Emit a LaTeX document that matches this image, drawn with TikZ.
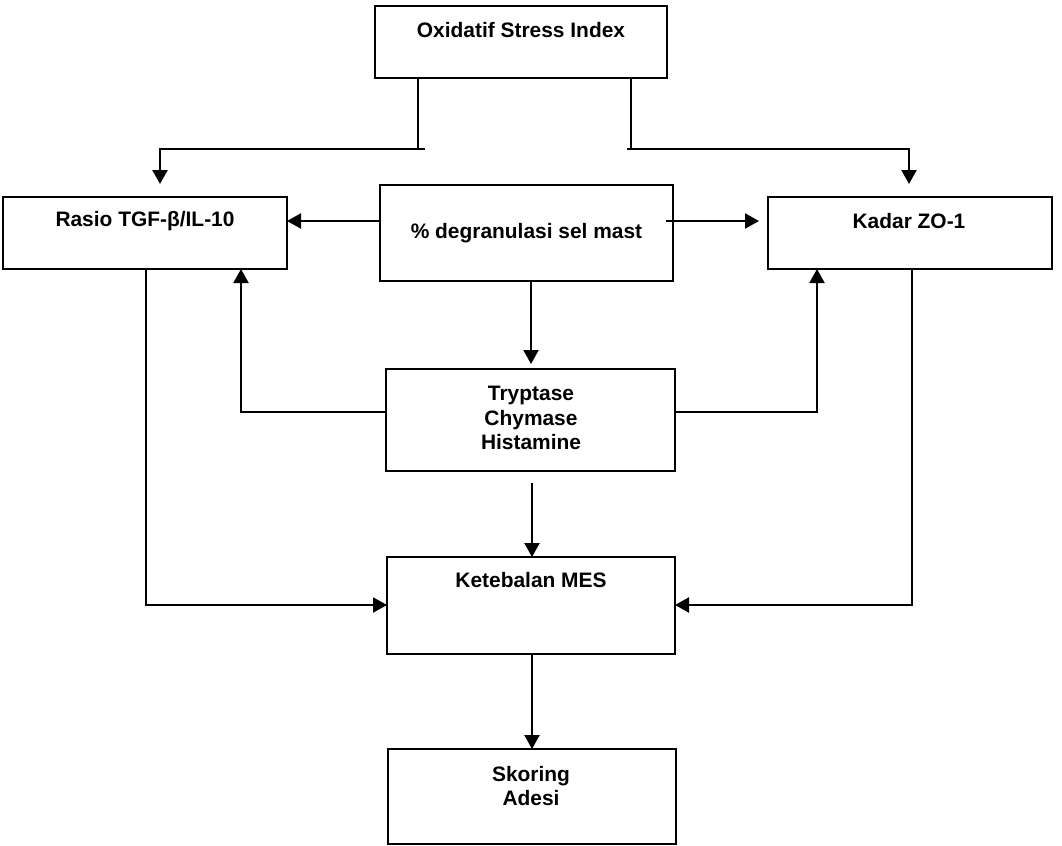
\documentclass[tikz,border=0pt]{standalone}
\usepackage{fontspec}
\setmainfont{Liberation Sans}
\usetikzlibrary{arrows.meta,fit,positioning}
\begin{document}
\begin{tikzpicture}[x=1bp,y=-1bp,
  box/.style={draw=black,line width=1.8bp,inner sep=0pt,outer sep=0pt,rectangle},
  conn/.style={draw=black,line width=2.2bp},
  arr/.style={conn,-{Triangle[length=14bp,width=15bp]}},
  txt/.style={font=\fontsize{21}{24.5}\selectfont\bfseries,inner sep=0pt,align=center}]
\useasboundingbox[fill=white] (0,0) rectangle (1062,846);
% boxes
\node[box,fit={(375,6) (667,78)}] (osi) {};
\node[box,fit={(3,197) (287,269)}] (rasio) {};
\node[box,fit={(380,185) (673,281)}] (deg) {};
\node[box,fit={(768,197) (1052,269)}] (kadar) {};
\node[box,fit={(386,369) (675,471)}] (tryp) {};
\node[box,fit={(387,557) (675,654)}] (keteb) {};
\node[box,fit={(388,749) (676,844)}] (skor) {};
% texts
\node[txt] (tosi) at (521,30) {Oxidatif Stress Index};
\node[txt] (trasio) at (145,221) {Rasio TGF-β/IL-10};
\node[txt] (tdeg) at (526.5,233) {\% degranulasi sel mast};
\node[txt] (tkadar) at (909,221) {Kadar ZO-1};
\node[txt] (ttryp) at (531,418) {Tryptase\\Chymase\\Histamine};
\node[txt] (tketeb) at (531,580) {Ketebalan MES};
\node[txt] (tskor) at (531,786) {Skoring\\Adesi};
% helper coordinates
\coordinate (ol) at (418,149);
\coordinate (olt) at (425,149);
\coordinate (lt) at (160,184);
\coordinate (or) at (631,149);
\coordinate (ort) at (627,149);
\coordinate (rt) at (909,184);
\coordinate (h221) at (0,221);
\coordinate (dks) at (666,221);
\coordinate (dke) at (759,221);
\coordinate (dx) at (531,0);
\coordinate (dtt) at (531,364);
\coordinate (tl) at (241,412);
\coordinate (tr) at (817,412);
\coordinate (tks) at (532,483);
\coordinate (rl) at (146,605);
\coordinate (kr) at (912,605);
\coordinate (cx) at (532,0);
% connectors
\draw[conn] (osi.south -| ol) -- (ol);
\draw[arr] (olt) -| (lt);
\draw[conn] (osi.south -| or) -- (or);
\draw[arr] (ort) -| (rt);
\draw[arr] (deg.west |- h221) -- (rasio.east |- h221);
\draw[arr] (dks) -- (dke);
\draw[arr] (deg.south -| dx) -- (dtt);
\draw[arr] (tryp.west |- tl) -- (tl) -- (rasio.south -| tl);
\draw[arr] (tryp.east |- tr) -- (tr) -- (kadar.south -| tr);
\draw[arr] (tks) -- (keteb.north -| tks);
\draw[arr] (rasio.south -| rl) -- (rl) -- (keteb.west |- rl);
\draw[arr] (kadar.south -| kr) -- (kr) -- (keteb.east |- kr);
\draw[arr] (keteb.south -| cx) -- (skor.north -| cx);
\end{tikzpicture}
\end{document}
